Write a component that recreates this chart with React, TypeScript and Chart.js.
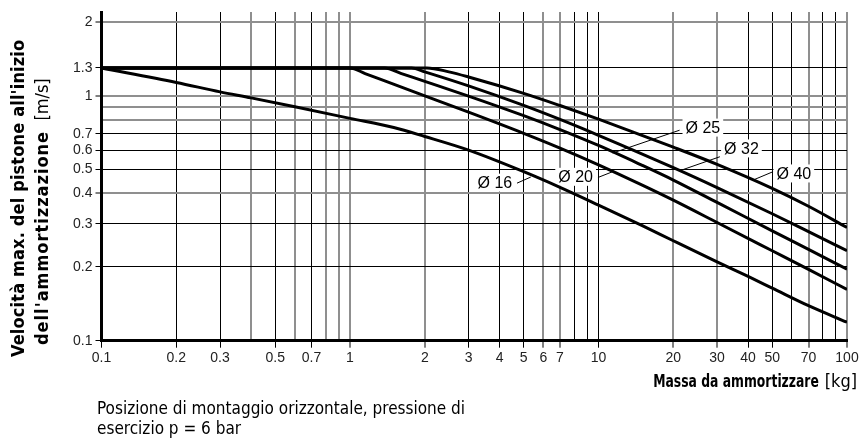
import React, { useEffect, useRef } from 'react';
import { Chart, registerables } from 'chart.js';

Chart.register(...registerables);

// ---- axis ticks ----
const massTicks = [0.1, 0.2, 0.3, 0.4, 0.5, 0.6, 0.7, 0.8, 0.9, 1, 2, 3, 4, 5, 6, 7, 8, 9, 10, 20, 30, 40, 50, 60, 70, 80, 90, 100];
const massLabels = [0.1, 0.2, 0.3, 0.5, 0.7, 1, 2, 3, 4, 5, 6, 7, 10, 20, 30, 40, 50, 70, 100];
const speedTicks = [0.1, 0.2, 0.3, 0.4, 0.5, 0.6, 0.7, 0.8, 0.9, 1, 1.3, 2];
const speedLabels = [0.1, 0.2, 0.3, 0.4, 0.5, 0.6, 0.7, 1, 1.3, 2];
const greyMassLines = [0.4, 0.6, 0.8, 0.9, 1, 2, 6, 7, 20, 30, 70, 100];
const greySpeedLines = [0.4, 0.8, 0.9, 1, 2];

// ---- series (mass kg -> speed m/s) ----
const mass16 = [0.1, 0.2, 0.3, 0.4, 0.6, 1, 1.5, 2, 3, 5, 7, 10, 15, 20, 30, 40, 50, 70, 100];
const speed16 = [1.3, 1.134, 1.038, 0.981, 0.902, 0.809, 0.742, 0.682, 0.6, 0.49, 0.423, 0.358, 0.295, 0.256, 0.21, 0.183, 0.164, 0.139, 0.119];
const mass20 = [0.1, 1, 1.15, 2, 3, 5, 7, 10, 15, 20, 30, 50, 70, 100];
const speed20 = [1.3, 1.3, 1.233, 1.0, 0.858, 0.703, 0.612, 0.523, 0.432, 0.375, 0.304, 0.233, 0.1955, 0.162];
const mass25 = [0.1, 1.38, 1.6, 2, 3, 5, 7, 10, 15, 20, 30, 50, 70, 100];
const speed25 = [1.3, 1.3, 1.236, 1.146, 0.998, 0.83, 0.728, 0.627, 0.52, 0.453, 0.367, 0.281, 0.236, 0.196];
const mass32 = [0.1, 1.77, 2, 3, 5, 7, 10, 20, 30, 50, 70, 100];
const speed32 = [1.3, 1.3, 1.253, 1.098, 0.914, 0.801, 0.69, 0.509, 0.422, 0.33, 0.279, 0.233];
const mass40 = [0.1, 2.04, 2.5, 3, 5, 7, 10, 20, 30, 50, 70, 100];
const speed40 = [1.3, 1.3, 1.253, 1.194, 1.024, 0.913, 0.803, 0.617, 0.525, 0.419, 0.354, 0.29];

// ---- curve labels ----
const labelText = ['Ø 16', 'Ø 20', 'Ø 25', 'Ø 32', 'Ø 40'];
const labelMass = [3.83, 8.09, 26.3, 37.6, 61.1];
const labelSpeed = [0.442, 0.467, 0.742, 0.61, 0.482];
const leaderFromMass = [4.7, 9.95, 21.2, 30.8, 50.4];
const leaderFromSpeed = [0.44, 0.464, 0.724, 0.564, 0.49];
const leaderToMass = [5.34, 11.4, 11.4, 21.9, 41.9];
const leaderToSpeed = [0.466, 0.49, 0.584, 0.5, 0.453];

const zip = (xs: number[], ys: number[]) => xs.map((x, i) => ({ x, y: ys[i] }));

const TICK_FONT = "'Liberation Sans', Arial, sans-serif";
const TITLE_FONT = "'DejaVu Sans Condensed', 'Liberation Sans Narrow', Roboto, sans-serif";

const labelsPlugin = {
  id: 'curveLabels',
  beforeDatasetsDraw(chart: any) {
    const { ctx, scales } = chart;
    const xs = scales.x;
    const ys = scales.y;
    ctx.save();
    ctx.font = `16px ${TICK_FONT}`;
    ctx.textAlign = 'center';
    ctx.textBaseline = 'middle';
    for (let i = 0; i < labelText.length; i++) {
      const cx = xs.getPixelForValue(labelMass[i]);
      const cy = ys.getPixelForValue(labelSpeed[i]);
      const w = ctx.measureText(labelText[i]).width + 6;
      const h = 18;
      ctx.fillStyle = '#fff';
      ctx.fillRect(cx - w / 2, cy - h / 2, w, h);
      ctx.fillStyle = '#000';
      ctx.fillText(labelText[i], cx, cy + 1);
      ctx.strokeStyle = '#000';
      ctx.lineWidth = 1;
      ctx.beginPath();
      ctx.moveTo(xs.getPixelForValue(leaderFromMass[i]), ys.getPixelForValue(leaderFromSpeed[i]));
      ctx.lineTo(xs.getPixelForValue(leaderToMass[i]), ys.getPixelForValue(leaderToSpeed[i]));
      ctx.stroke();
    }
    ctx.restore();
  },
};

const line = (data: { x: number; y: number }[]) => ({
  data,
  borderColor: '#000',
  borderWidth: 3,
  pointRadius: 0,
  fill: false,
  cubicInterpolationMode: 'monotone' as const,
});

const rotated = (left: number, top: number): React.CSSProperties => ({
  position: 'absolute',
  left,
  top,
  transform: 'rotate(-90deg)',
  transformOrigin: 'left top',
  fontFamily: TITLE_FONT,
  fontSize: 18,
  lineHeight: '22px',
  color: '#000',
  whiteSpace: 'nowrap',
});

export default function App() {
  const canvasRef = useRef<HTMLCanvasElement | null>(null);

  useEffect(() => {
    if (!canvasRef.current) return;
    const chart = new Chart(canvasRef.current, {
      type: 'line',
      data: {
        datasets: [
          line(zip(mass16, speed16)),
          line(zip(mass20, speed20)),
          line(zip(mass25, speed25)),
          line(zip(mass32, speed32)),
          line(zip(mass40, speed40)),
        ],
      },
      options: {
        responsive: false,
        animation: false,
        events: [],
        layout: { padding: { left: 0, right: 16, top: 12, bottom: 0 } },
        plugins: { legend: { display: false }, tooltip: { enabled: false } },
        scales: {
          x: {
            type: 'logarithmic',
            min: 0.1,
            max: 100,
            afterBuildTicks: (scale: any) => {
              scale.ticks = massTicks.map((v) => ({ value: v }));
            },
            afterFit: (scale: any) => {
              scale.height = 98.3;
            },
            ticks: {
              autoSkip: false,
              maxRotation: 0,
              padding: 2,
              color: '#222',
              font: { family: TICK_FONT, size: 14 },
              callback: (v: any) => (massLabels.includes(Number(v)) ? String(v) : ''),
            },
            grid: {
              color: (c: any) => (greyMassLines.includes(c.tick?.value) ? '#8f8f8f' : '#000'),
              lineWidth: (c: any) => (greyMassLines.includes(c.tick?.value) ? 2 : 1),
              tickColor: (c: any) => (massLabels.includes(c.tick?.value) ? '#000' : 'rgba(0,0,0,0)'),
              tickLength: 7,
              tickWidth: 1,
            },
            border: { display: true, color: '#000', width: 3 },
          },
          y: {
            type: 'logarithmic',
            min: 0.1,
            max: 2.2,
            afterBuildTicks: (scale: any) => {
              scale.ticks = speedTicks.map((v) => ({ value: v }));
            },
            afterFit: (scale: any) => {
              scale.width = 101.5;
            },
            ticks: {
              autoSkip: false,
              padding: 3,
              color: '#222',
              font: { family: TICK_FONT, size: 14 },
              callback: (v: any) => (speedLabels.includes(Number(v)) ? String(v) : ''),
            },
            grid: {
              color: (c: any) => (greySpeedLines.includes(c.tick?.value) ? '#8f8f8f' : '#000'),
              lineWidth: (c: any) => (greySpeedLines.includes(c.tick?.value) ? 2 : 1),
              tickColor: (c: any) => (speedLabels.includes(c.tick?.value) ? '#000' : 'rgba(0,0,0,0)'),
              tickLength: 6,
              tickWidth: 1,
            },
            border: { display: true, color: '#000', width: 3 },
          },
        },
      },
      plugins: [labelsPlugin],
    } as any);
    return () => chart.destroy();
  }, []);

  return (
    <div style={{ position: 'absolute', left: 0, top: 0, width: 863, height: 439, overflow: 'hidden', background: '#fff' }}>
      <canvas ref={canvasRef} width={863} height={439} style={{ position: 'absolute', left: 0, top: 0, width: 863, height: 439 }} />
      <div style={rotated(7, 357)}>
        <b style={{ letterSpacing: '0.15px' }}>Velocità max. del pistone all'inizio</b>
      </div>
      <div style={rotated(31, 345)}>
        <b style={{ letterSpacing: '1px' }}>dell'ammortizzazione</b>&nbsp; [m/s]
      </div>
      <div
        style={{
          position: 'absolute',
          right: 44,
          top: 369,
          fontFamily: TITLE_FONT,
          fontSize: 18,
          lineHeight: '24px',
          fontWeight: 'bold',
          color: '#000',
          whiteSpace: 'nowrap',
          transform: 'scaleX(0.764)',
          transformOrigin: 'right center',
        }}
      >
        Massa da ammortizzare
      </div>
      <div
        style={{
          position: 'absolute',
          right: 6,
          top: 369,
          fontFamily: TITLE_FONT,
          fontSize: 18,
          lineHeight: '24px',
          color: '#000',
          whiteSpace: 'nowrap',
        }}
      >
        [kg]
      </div>
      <div
        style={{
          position: 'absolute',
          left: 97,
          top: 398,
          fontFamily: TITLE_FONT,
          fontSize: 17,
          lineHeight: '20px',
          color: '#000',
          whiteSpace: 'nowrap',
        }}
      >
        <div>Posizione di montaggio orizzontale, pressione di</div>
        <div>esercizio p = 6 bar</div>
      </div>
    </div>
  );
}
